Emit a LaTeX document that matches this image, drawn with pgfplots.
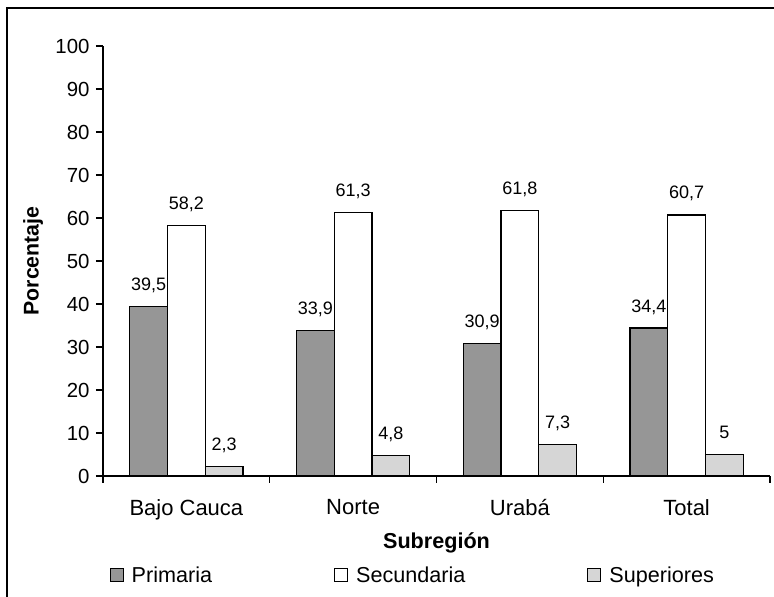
\documentclass[border=0pt]{standalone}
\usepackage{fontspec}
\setmainfont{Liberation Sans}
\usepackage{pgfplots}
\pgfplotsset{compat=1.18}

\definecolor{primcol}{RGB}{150,150,150}
\definecolor{supcol}{RGB}{214,214,214}

\begin{document}
\begin{tikzpicture}
\begin{axis}[
  scale only axis,
  width=667pt, height=430pt,
  at={(0pt,0pt)}, anchor=south west,
  xmin=-0.5, xmax=3.5,
  ymin=0, ymax=100,
  ytick={0,10,...,100},
  xtick={-0.5,0.5,1.5,2.5,3.5},
  xticklabels={},
  extra x ticks={0,1,2,3},
  extra x tick labels={Bajo Cauca,Norte,Urabá,Total},
  extra x tick style={major tick length=0pt,
    tick label style={font=\fontsize{22}{24}\selectfont, yshift=-20pt}},
  axis x line*=bottom,
  axis y line*=left,
  axis line style={line width=1.3pt, black},
  tick align=outside,
  major tick length=7pt,
  tick style={line width=1.1pt, black},
  yticklabel style={font=\fontsize{20.4}{22}\selectfont, xshift=-3pt},
  /pgf/number format/assume math mode=true,
  /pgf/number format/use comma,
  /pgf/number format/fixed,
  /pgf/number format/precision=1,
  ylabel={\bfseries Porcentaje},
  ylabel style={font=\fontsize{21.3}{23}\selectfont, at={(axis description cs:0,0.5)}, anchor=center, rotate=0, yshift=70pt},
  xlabel={\bfseries Subregión},
  xlabel style={font=\fontsize{21.6}{23}\selectfont, at={(axis description cs:0.5,0)}, yshift=-67pt, anchor=center},
  ybar,
  bar width=37.7pt,
  nodes near coords,
  nodes near coords style={font=\fontsize{18}{20}\selectfont, anchor=base, yshift=16pt, black},
  every axis plot/.append style={draw=black, line width=1.2pt},
  legend columns=3,
  legend style={draw=none, fill=none, inner sep=0pt,
    at={(rel axis cs:0,0)}, anchor=west, xshift=6.5pt, yshift=-99pt,
    font=\fontsize{21.6}{23}\selectfont,
    /tikz/every even column/.append style={column sep=120pt},
    /tikz/every odd column/.append style={column sep=6pt}},
  legend image code/.code={\draw[#1, line width=1pt] (0pt,-6.5pt) rectangle (13pt,6.5pt);},
]
\addplot[fill=primcol, bar shift=-37.7pt] coordinates {(0,39.5) (1,33.9) (2,30.9) (3,34.4)};
\addplot[fill=white, bar shift=0pt] coordinates {(0,58.2) (1,61.3) (2,61.8) (3,60.7)};
\addplot[fill=supcol, bar shift=37.7pt] coordinates {(0,2.3) (1,4.8) (2,7.3) (3,5)};
\legend{Primaria,Secundaria,Superiores}
\end{axis}
% outer frame of the figure (top and left edges)
\draw[line width=1.2pt, black] (-96pt,-121pt) -- (-96pt,468pt) -- (671pt,468pt);
\pgfresetboundingbox
\useasboundingbox (-103pt,-121pt) rectangle (671pt,476pt);
\end{tikzpicture}
\end{document}
